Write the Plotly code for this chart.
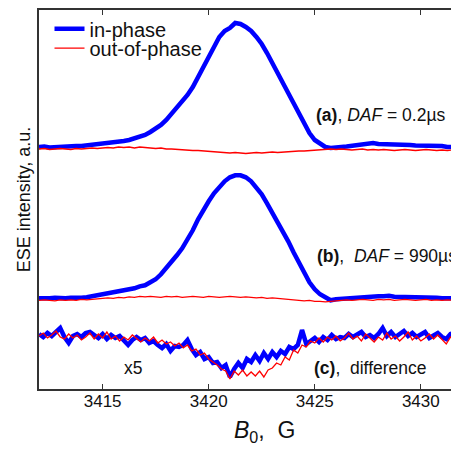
import numpy as np
import plotly.graph_objects as go

# Magnetic field grids (G)
B0_main = np.round(np.arange(3412.0, 3432.001, 0.25), 3)   # 81 points
B0_diff = np.round(np.arange(3412.0, 3432.001, 0.2), 3)    # 101 points

# (a) DAF = 0.2 us
a_in = [0, 0.5, -0.5, 0, 0.5, 0, 0.5, 1, 1, 1.5,
        2, 2.5, 3, 3.5, 4, 5, 6, 7, 8.5, 10,
        12, 15, 18, 22, 27, 33, 39, 45, 52, 60,
        70, 80, 90, 101, 110, 116, 119, 124, 123, 120,
        116, 110, 103, 94, 84, 73, 62, 52, 42, 32,
        22, 14, 7, 3, 0, -1, 0, 0, 0.5, 1,
        1.5, 2, 3, 4, 3, 3, 2.5, 2.5, 2, 2,
        2, 1.5, 1.5, 1, 1, 0.5, 1, 0, 0.5, 0, 0]
a_out = [-2, -1.5, -2.5, -2, -1.5, -2, -2.5, -1.5, -2, -1.5,
         -1, -1.5, -1, -0.5, -1, 0, -0.5, 0, -1, 0,
         -0.5, -1, -1.5, -1, -2, -2, -2.5, -3, -3, -3.5,
         -3.5, -4, -4.5, -5, -5, -5.5, -6, -5.5, -6, -6.5,
         -6, -5.5, -6, -5.5, -5, -5.5, -5, -4.5, -4.5, -4,
         -4, -3.5, -3, -2.5, -2.5, -2, -2.5, -2, -2.5, -3,
         -2.5, -2, -3, -2.5, -3, -2.5, -3, -3.5, -3, -2.5,
         -3, -3.5, -3, -2.5, -3, -3.5, -3, -3.5, -3, -3, -3]

# (b) DAF = 990 us
b_in = [0, -0.5, 0, 0.5, 0, 0, 0.5, 0, 0.5, 1,
        2, 2.5, 3, 4, 5, 6, 7, 8.5, 10, 12,
        13, 16, 19, 24, 30, 36, 43, 50, 58, 68,
        79, 89, 97, 105, 111, 117, 121, 123, 123, 121,
        117, 111, 104, 95, 86, 77, 67, 57, 46, 36,
        26, 16, 9, 4, 1, -2, -1, -0.5, 0, 0.5,
        1, 1.5, 2, 2.5, 2, 2, 2.5, 1.5, 1.5, 1,
        1, 1, 0.5, 1, 0.5, 0.5, 0, 0.5, 0, 0, 0]
b_out = [-2, -1.5, -2, -2.5, -1.5, -2, -1.5, -2, -1, -1.5,
         -1, -0.5, 0, 0.5, 0, 1, 0.5, 1.5, 1, 2,
         1.5, 2, 1.5, 1, 2, 1.5, 2, 1, 1.5, 2,
         1.5, 1, 2, 1.5, 1, 1.5, 2, 1.5, 1, 1.5,
         1, 0.5, 1, 0, 0.5, 0, -0.5, -1, -1.5, -2,
         -2.5, -2, -3, -3, -3.5, -3, -2.5, -2, -1.5, -2,
         -1.5, -1, -1.5, -2, -1, -1.5, -1, -2, -1.5, -1,
         -1.5, -2, -1.5, -1, -2, -1.5, -2, -1.5, -2, -1.5, -2]

# (c) difference, x5
c_in = [1, -2, 2, -1, 3, 7, -2, -8, -1, 1,
        -2, 2, 3, 0, -3, 1, -4, 0, -3, -1,
        -6, -10, -5, -2, -5, -3, -8, -6, -10, -13,
        -9, -16, -11, -12, -10, -5, -14, -20, -17, -24,
        -22, -28, -27, -33, -30, -42, -34, -28, -33, -24,
        -27, -20, -26, -18, -24, -17, -22, -16, -19, -12,
        -14, -10, 5, -9, -6, -3, -7, -2, -5, 0,
        -4, -2, -3, 1, -2, 0, 3, -2, 0, -3,
        1, 7, -1, 3, -2, 1, 4, -1, 2, -2,
        0, 3, -3, 0, 2, -2, -4, 1, 2, -3, -1]
c_out = [-1, 2, -3, 0, 4, -2, -4, 1, -3, 0,
         -5, -2, 2, -4, 1, -3, 3, -4, -1, -6,
         -2, -5, 0, -4, -7, -3, -6, -2, -8, -5,
         -9, -7, -11, -8, -13, -10, -16, -14, -20, -18,
         -24, -27, -30, -34, -36, -44, -36, -40, -35, -41,
         -37, -41, -36, -42, -35, -33, -28, -30, -22, -25,
         -15, -18, -10, -12, -6, -8, -3, -7, -2, -5,
         -1, -6, -3, 2, -4, -1, -6, 1, -3, -7,
         -2, -5, 2, -4, -1, -6, -2, 3, -5, -1,
         -6, -3, 1, -4, 0, -5, -9, -2, -4, 0, -3]

# vertical offsets of the stacked spectra
offsets = {"a": 242, "b": 90.7, "c": 54}

BLUE = "#0000FF"
RED = "#FF0000"
FONT = "Liberation Sans, Arial, Helvetica, sans-serif"

fig = go.Figure()

def add_pair(x, yin, yout, off, legend):
    fig.add_trace(go.Scatter(x=x, y=np.array(yin) + off, mode="lines",
                             line=dict(color=BLUE, width=4.5),
                             name="in-phase", showlegend=legend, legend="legend"))
    fig.add_trace(go.Scatter(x=x, y=np.array(yout) + off, mode="lines",
                             line=dict(color=RED, width=1.3),
                             name="out-of-phase", showlegend=legend, legend="legend2"))

add_pair(B0_main, a_in, a_out, offsets["a"], True)
add_pair(B0_main, b_in, b_out, offsets["b"], False)
add_pair(B0_diff, c_in, c_out, offsets["c"], False)

ann_font = dict(family=FONT, size=17.5, color="#111")
fig.add_annotation(x=3431.25, y=274, text="<b>(a)</b>, <i>DAF</i> = 0.2µs",
                   showarrow=False, xanchor="right", yanchor="middle", font=ann_font)
fig.add_annotation(x=3431.78, y=133, text="<b>(b)</b>,  <i>DAF</i> = 990µs",
                   showarrow=False, xanchor="right", yanchor="middle", font=ann_font)
fig.add_annotation(x=3430.4, y=21, text="<b>(c)</b>,  difference",
                   showarrow=False, xanchor="right", yanchor="middle", font=ann_font)
fig.add_annotation(x=3416.43, y=21, text="x5",
                   showarrow=False, xanchor="center", yanchor="middle", font=ann_font)

# x-axis title (placed as an annotation to match the original horizontal offset)
fig.add_annotation(xref="paper", yref="paper", x=0.538, y=-0.113,
                   text="<i>B</i><sub>0</sub>,  G", showarrow=False,
                   xanchor="center", yanchor="middle",
                   font=dict(family=FONT, size=23, color="#111"))

leg_common = dict(xanchor="left", yanchor="top", bgcolor="rgba(0,0,0,0)", borderwidth=0,
                  font=dict(family=FONT, size=20, color="#111"), itemwidth=30)

# the page body adds an 8px offset, so the figure is sized/margined to compensate
fig.update_layout(
    width=451, height=442,
    margin=dict(l=31, r=0, t=2, b=61, autoexpand=False),
    paper_bgcolor="white", plot_bgcolor="white",
    font=dict(family=FONT, color="#111"),
    showlegend=True,
    legend=dict(x=0.025, y=1.002, **leg_common),
    legend2=dict(x=0.025, y=0.951, **leg_common),
    xaxis=dict(range=[3412, 3431.8], tickvals=[3415, 3420, 3425, 3430],
               ticks="inside", ticklen=5, tickwidth=1, tickcolor="#333",
               showline=True, linecolor="#333", linewidth=1.5, mirror="ticks",
               showgrid=False, zeroline=False, automargin=False,
               ticklabelstandoff=-4,
               tickfont=dict(family=FONT, size=17, color="#111")),
    yaxis=dict(range=[0, 379], showticklabels=False, ticks="",
               showline=True, linecolor="#333", linewidth=1.5, mirror=False,
               showgrid=False, zeroline=False, automargin=False,
               title=dict(text="ESE intensity, a.u.",
                          font=dict(family=FONT, size=18, color="#111"),
                          standoff=2)),
)

fig.write_html("out.html")
